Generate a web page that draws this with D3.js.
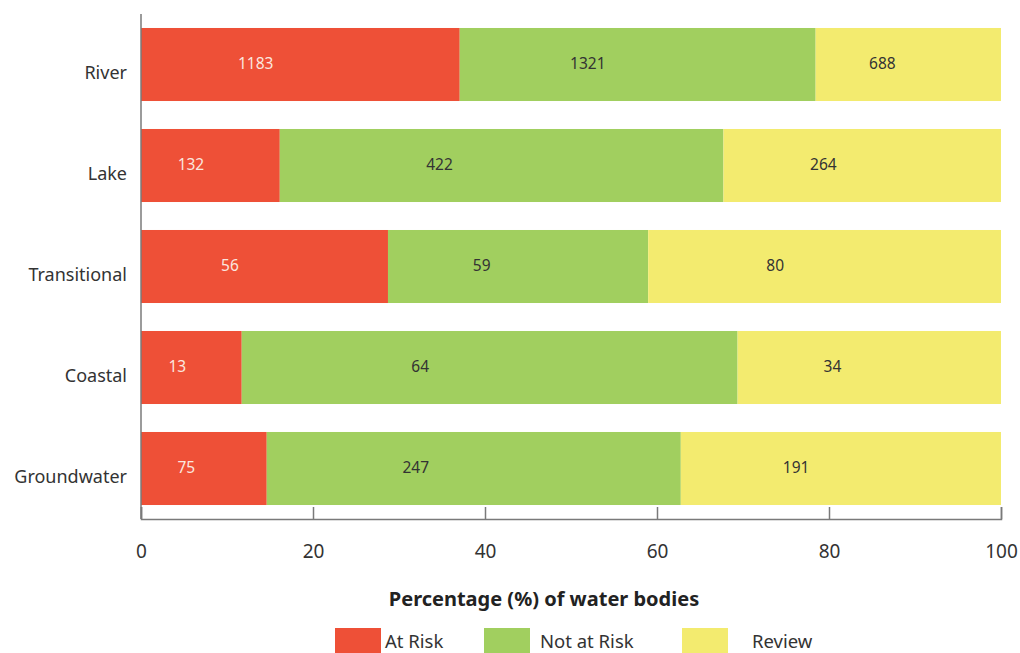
<!DOCTYPE html>
<html>
<head>
<meta charset="utf-8">
<script src="https://cdn.jsdelivr.net/npm/d3@7/dist/d3.min.js"></script>
<style>
  html, body { margin: 0; padding: 0; background: #fff; }
  svg { display: block; font-family: "Noto Sans", "Open Sans", sans-serif; }
</style>
</head>
<body>
<svg id="chart" width="1020" height="653"></svg>
<script>
// Number of water bodies per category and risk status
const categories = ["River", "Lake", "Transitional", "Coastal", "Groundwater"];
const atRisk     = [1183, 132, 56, 13, 75];
const notAtRisk  = [1321, 422, 59, 64, 247];
const review     = [688, 264, 80, 34, 191];
const seriesNames = ["At Risk", "Not at Risk", "Review"];
const xTicks = [0, 20, 40, 60, 80, 100];

const colors = ["#ee5037", "#a1cf5f", "#f3eb6f"];
const labelColors = ["#fbe6df", "#333333", "#333333"];

const svg = d3.select("#chart");
const margin = { left: 141, right: 1001, top: 14, bottom: 519 };

const x = d3.scaleLinear().domain([0, 100]).range([margin.left, margin.right]);
const y = d3.scaleBand()
  .domain(categories)
  .range([margin.top, margin.bottom])
  .paddingInner(0.277)
  .paddingOuter(0.1385);

// Build rows and convert counts into percentage stacks
const rows = categories.map((c, i) => ({
  category: c,
  "At Risk": atRisk[i],
  "Not at Risk": notAtRisk[i],
  "Review": review[i]
}));
const stack = d3.stack().keys(seriesNames).offset(d3.stackOffsetExpand);
const layers = stack(rows);

const g = svg.append("g");
layers.forEach((layer, si) => {
  const grp = g.append("g");
  grp.selectAll("rect")
    .data(layer)
    .join("rect")
    .attr("x", d => x(d[0] * 100))
    .attr("y", d => y(d.data.category))
    .attr("width", d => x(d[1] * 100) - x(d[0] * 100))
    .attr("height", y.bandwidth())
    .attr("fill", colors[si]);

  // count labels, set a little left of each segment's middle
  grp.selectAll("text")
    .data(layer)
    .join("text")
    .attr("x", d => x((d[0] + (d[1] - d[0]) * 0.36) * 100))
    .attr("y", d => y(d.data.category) + y.bandwidth() / 2 + 4.5)
    .attr("text-anchor", "middle")
    .attr("font-size", 15.5)
    .attr("fill", labelColors[si])
    .text(d => d.data[layer.key]);
});

// Category axis
svg.append("line")
  .attr("x1", margin.left).attr("x2", margin.left)
  .attr("y1", margin.top).attr("y2", margin.bottom)
  .attr("stroke", "#7a7a7a").attr("stroke-width", 1.5);

svg.append("g").selectAll("text")
  .data(categories)
  .join("text")
  .attr("x", 127)
  .attr("y", d => y(d) + y.bandwidth() / 2 + 14.5)
  .attr("text-anchor", "end")
  .attr("font-size", 18)
  .attr("fill", "#333")
  .text(d => d);

// Percentage axis with upward ticks
const xAxis = d3.axisBottom(x).tickValues(xTicks).tickSizeInner(-12).tickSizeOuter(-12).tickPadding(24);
const ax = svg.append("g")
  .attr("transform", `translate(0,${margin.bottom})`)
  .call(xAxis);
ax.select(".domain").attr("stroke", "#7a7a7a").attr("stroke-width", 1.5);
ax.selectAll(".tick line").attr("stroke", "#7a7a7a").attr("stroke-width", 1.5);
ax.selectAll(".tick text")
  .attr("font-family", "'Noto Sans', 'Open Sans', sans-serif")
  .attr("font-size", 19)
  .attr("fill", "#333")
  .attr("y", 39)
  .attr("dy", 0);

svg.append("text")
  .attr("x", 544).attr("y", 606)
  .attr("text-anchor", "middle")
  .attr("font-size", 20)
  .attr("font-weight", "bold")
  .attr("fill", "#222")
  .text("Percentage (%) of water bodies");

// Legend
const legendX = [335, 484, 682];
const legendTextX = [385, 540, 752];
const lg = svg.append("g");
seriesNames.forEach((name, i) => {
  lg.append("rect")
    .attr("x", legendX[i]).attr("y", 628)
    .attr("width", 46).attr("height", 26)
    .attr("fill", colors[i]);
  lg.append("text")
    .attr("x", legendTextX[i]).attr("y", 648)
    .attr("font-size", 18.5)
    .attr("fill", "#333")
    .text(name);
});
</script>
</body>
</html>
